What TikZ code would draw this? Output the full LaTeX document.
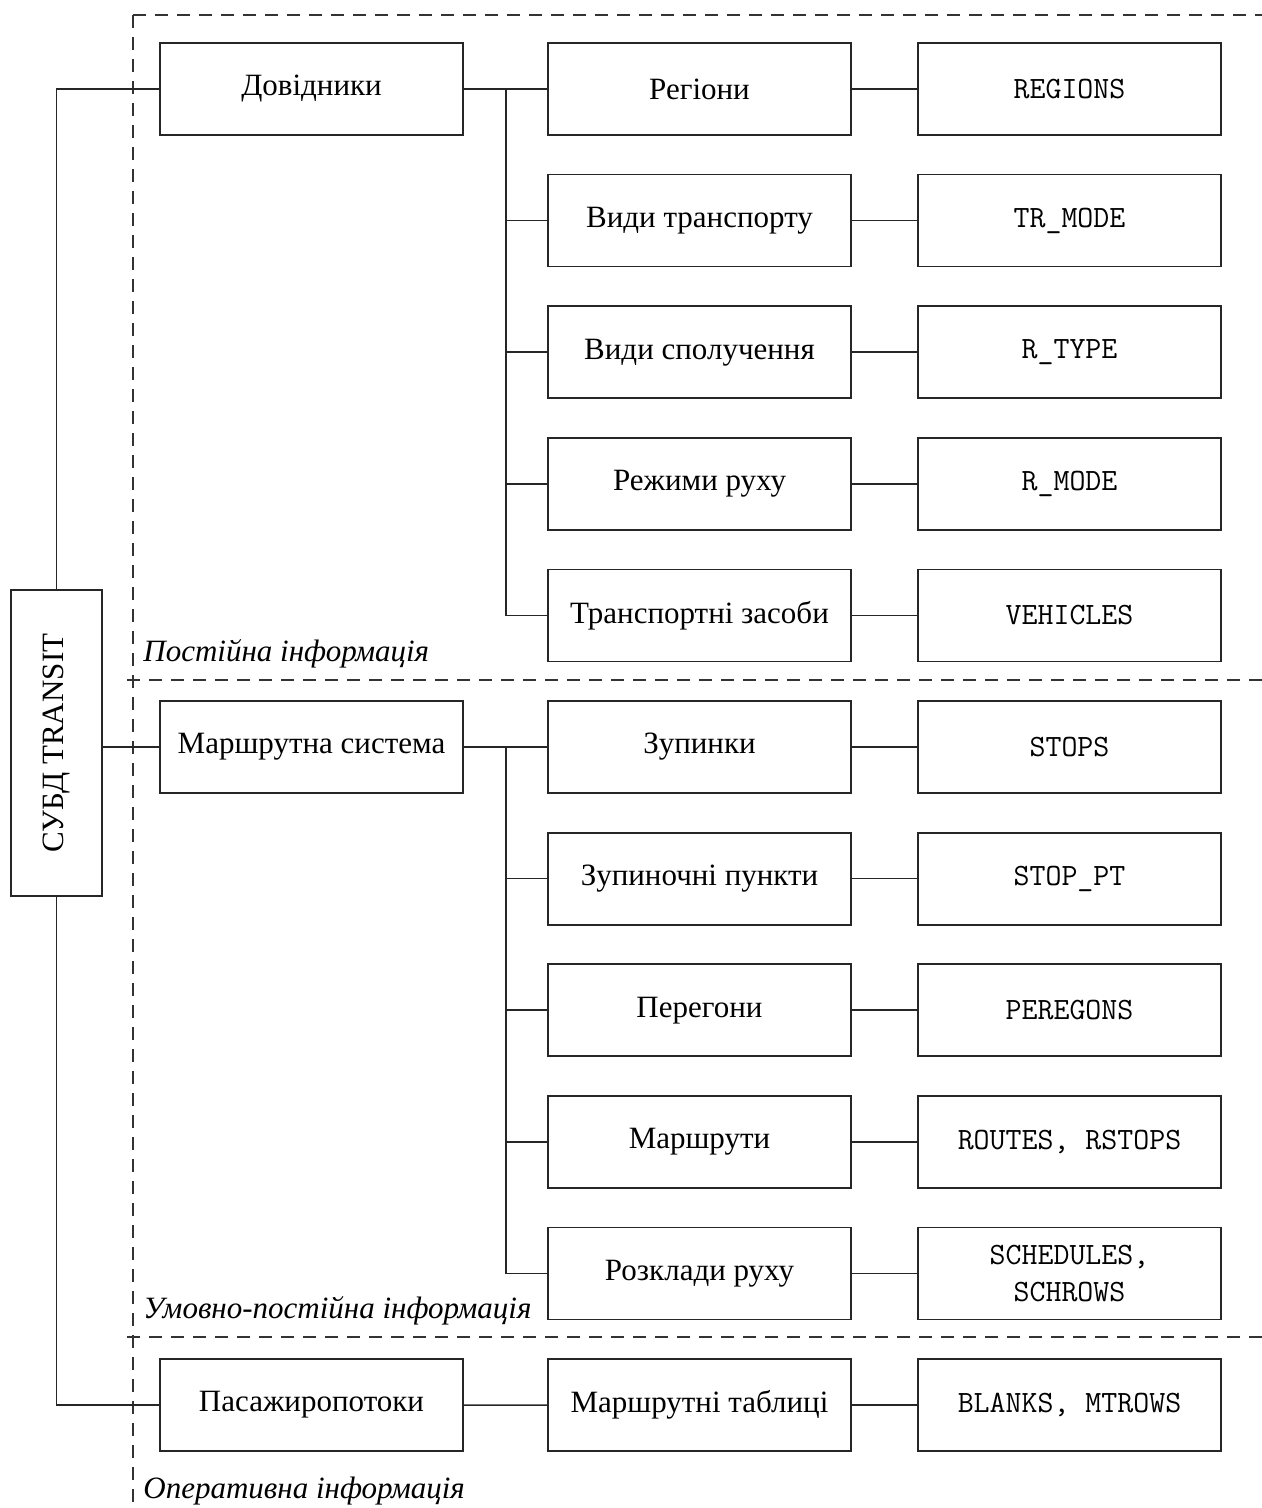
\documentclass[tikz,border=0pt]{standalone}
\usepackage{fontspec}
\setmainfont{Liberation Serif}
\begin{document}
\begin{tikzpicture}[x=0.5pt,y=-0.5pt,
  box/.style={draw=black!85,line width=0.9pt,minimum width=151.5pt,minimum height=46pt,inner sep=0pt,
    font=\fontsize{15.5}{18.5}\selectfont,align=center},
  tbox/.style={box,font=\fontsize{15.5}{18.5}\selectfont\ttfamily},
  link/.style={draw=black!85,line width=0.75pt},
  zone/.style={draw=black!80,line width=0.75pt,dash pattern=on 6.5pt off 4.5pt},
  zonelabel/.style={anchor=base west,inner sep=0pt,font=\fontsize{15.5}{18.5}\selectfont\itshape}]
\useasboundingbox (0,0) rectangle (1262,1508);

% information zones
\draw[zone] (133,15) -- (1262,15);
\draw[zone] (133,15) -- (133,1508);
\draw[zone] (127,680) -- (1262,680);
\draw[zone] (127,1337) -- (1262,1337);
\node[zonelabel] (lab1) at (143,661) {Постійна інформація};
\node[zonelabel] (lab2) at (143,1318) {Умовно-постійна інформація};
\node[zonelabel] (lab3) at (143,1498) {Оперативна інформація};

% root
\node[draw=black!85,line width=0.9pt,minimum width=45.5pt,minimum height=153pt,inner sep=0pt] (s) at (56.5,743) {};
\node[rotate=90,font=\fontsize{15.5}{18.5}\selectfont] (stext) at (s.center) {СУБД TRANSIT};

% first level
\node[box] (d) at (311.5,89) {Довідники};
\node[box] (m) at (311.5,747) {Маршрутна система};
\node[box] (p) at (311.5,1405) {Пасажиропотоки};

% second and third levels
\foreach \i/\a/\b in {
  0/Регіони/REGIONS,
  1/Види транспорту/TR\_MODE,
  2/Види сполучення/R\_TYPE,
  3/Режими руху/R\_MODE,
  4/Транспортні засоби/VEHICLES,
  5/Зупинки/STOPS,
  6/Зупиночні пункти/STOP\_PT,
  7/Перегони/PEREGONS,
  8/Маршрути/{ROUTES, RSTOPS},
  9/Розклади руху/{SCHEDULES,\\SCHROWS},
  10/Маршрутні таблиці/{BLANKS, MTROWS}}{
  \node[box] (a\i) at (699.5,{89+131.6*\i}) {\a};
  \node[tbox] (t\i) at (1069.5,{89+131.6*\i}) {\b};
  \draw[link] (a\i.east) -- (t\i.west);
}

% root connectors
\draw[link] (s.north) |- (d.west);
\draw[link] (s.east |- m.west) -- (m.west);
\draw[link] (s.south) |- (p.west);

% buses
\coordinate (bus1) at (506,89);
\coordinate (bus2) at (506,747);
\draw[link] (d.east) -- (bus1);
\foreach \i in {0,...,4} \draw[link] (bus1) |- (a\i.west);
\draw[link] (m.east) -- (bus2);
\foreach \i in {5,...,9} \draw[link] (bus2) |- (a\i.west);
\draw[link] (p.east) -- (a10.west);
\end{tikzpicture}
\end{document}
